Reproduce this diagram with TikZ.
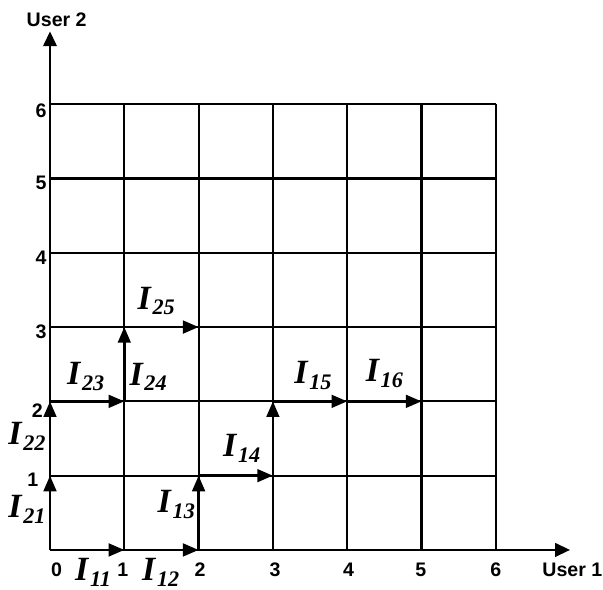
\documentclass[tikz,border=0pt]{standalone}
\usepackage{fontspec}
\setmainfont{Liberation Serif}
\setsansfont{Liberation Sans}
\usetikzlibrary{arrows.meta}
\newcommand{\ilab}[1]{\textbf{\textit{I}}\kern0.3pt\raisebox{-2.2pt}{\fontsize{8.5}{9}\selectfont\bfseries\itshape #1}}

\begin{document}
\begin{tikzpicture}[
    gridline/.style={line width=0.8pt},
    axis/.style={line width=1pt, -{Triangle[length=0.2cm, width=0.18cm]}},
    flow/.style={line width=1pt, -{Triangle[length=0.21cm, width=0.17cm]}},
    tick/.style={font=\sffamily\bfseries\fontsize{7.5}{9}\selectfont, inner sep=0pt},
    ilabel/.style={font=\fontsize{13}{15}\selectfont, inner sep=0pt},
  ]
    \useasboundingbox (-0.673,-0.538) rectangle (7.443,7.402);

    % Grid points
    \foreach \x in {0,...,6}
      \foreach \y in {0,...,6}
        \coordinate (g\x\y) at (\x,\y);
    \coordinate (xend) at (7.0,0);
    \coordinate (ytop) at (0,6.98);

    % Grid
    \foreach \k in {1,...,6} {
      \draw[gridline] (g\k0) -- (g\k6);
      \draw[gridline] (g0\k) -- (g6\k);
    }

    % Axes
    \draw[axis] (g00) -- (xend);
    \draw[axis] (g00) -- (ytop);
    \node[tick] (user1) at (7.03,-0.27) {User 1};
    \node[tick] (user2) at (0.09,7.13) {User 2};

    % Ticks
    \node[tick] (x0) at (0.09,-0.27) {0};
    \node[tick] (x1) at (0.98,-0.27) {1};
    \node[tick] (x2) at (2.02,-0.27) {2};
    \node[tick] (x3) at (3.03,-0.27) {3};
    \node[tick] (x4) at (4.02,-0.27) {4};
    \node[tick] (x5) at (4.99,-0.27) {5};
    \node[tick] (x6) at (6.00,-0.27) {6};
    \node[tick] (y1) at (-0.23,0.94) {1};
    \node[tick] (y2) at (-0.17,1.88) {2};
    \node[tick] (y3) at (-0.12,2.93) {3};
    \node[tick] (y4) at (-0.12,3.93) {4};
    \node[tick] (y5) at (-0.12,4.94) {5};
    \node[tick] (y6) at (-0.12,5.91) {6};

    % User 1 path
    \draw[flow] (g00) -- (g10);
    \draw[flow] (g10) -- (g20);
    \draw[flow] (g20) -- (g21);
    \draw[flow] (g21) -- (g31);
    \draw[flow] (g31) -- (g32);
    \draw[flow] (g32) -- (g42);
    \draw[flow] (g42) -- (g52);

    % User 2 path
    \draw[flow] (g00) -- (g01);
    \draw[flow] (g01) -- (g02);
    \draw[flow] (g02) -- (g12);
    \draw[flow] (g12) -- (g13);
    \draw[flow] (g13) -- (g23);

    % Labels
    \node[ilabel] (i11) at (0.58,-0.30) {\ilab{11}};
    \node[ilabel] (i12) at (1.49,-0.30) {\ilab{12}};
    \node[ilabel] (i13) at (1.70,0.61) {\ilab{13}};
    \node[ilabel] (i14) at (2.58,1.37) {\ilab{14}};
    \node[ilabel] (i15) at (3.54,2.35) {\ilab{15}};
    \node[ilabel] (i16) at (4.50,2.37) {\ilab{16}};
    \node[ilabel] (i21) at (-0.31,0.55) {\ilab{21}};
    \node[ilabel] (i22) at (-0.31,1.53) {\ilab{22}};
    \node[ilabel] (i23) at (0.48,2.33) {\ilab{23}};
    \node[ilabel] (i24) at (1.32,2.33) {\ilab{24}};
    \node[ilabel] (i25) at (1.43,3.35) {\ilab{25}};
\end{tikzpicture}
\end{document}
